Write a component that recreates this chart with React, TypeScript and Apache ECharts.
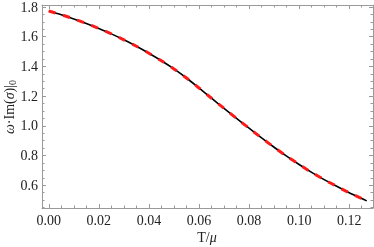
import React, { useEffect, useRef } from "react";
import * as echarts from "echarts";

const tValues = [0, 0.005, 0.01, 0.015, 0.02, 0.025, 0.03, 0.035, 0.04, 0.045, 0.05, 0.055, 0.06, 0.065, 0.07, 0.075, 0.08, 0.085, 0.09, 0.095, 0.1, 0.105, 0.11, 0.115, 0.12, 0.125, 0.127];
const numericValues = [1.773, 1.748, 1.72, 1.689, 1.655, 1.619, 1.579, 1.536, 1.489, 1.438, 1.383, 1.322, 1.255, 1.186, 1.118, 1.05, 0.984, 0.919, 0.856, 0.796, 0.74, 0.687, 0.638, 0.593, 0.55, 0.511, 0.495];
const fitValues = [1.773, 1.748, 1.72, 1.689, 1.655, 1.619, 1.579, 1.536, 1.489, 1.438, 1.383, 1.322, 1.255, 1.186, 1.118, 1.05, 0.984, 0.919, 0.856, 0.796, 0.74, 0.687, 0.638, 0.593, 0.55, 0.511, 0.495];

const xMajorTicks = [0, 0.02, 0.04, 0.06, 0.08, 0.1, 0.12];
const xMinorTicks = [0.005, 0.01, 0.015, 0.025, 0.03, 0.035, 0.045, 0.05, 0.055, 0.065, 0.07, 0.075, 0.085, 0.09, 0.095, 0.105, 0.11, 0.115, 0.125];
const yMajorTicks = [0.6, 0.8, 1.0, 1.2, 1.4, 1.6, 1.8];
const yMinorTicks = [0.45, 0.5, 0.55, 0.65, 0.7, 0.75, 0.85, 0.9, 0.95, 1.05, 1.1, 1.15, 1.25, 1.3, 1.35, 1.45, 1.5, 1.55, 1.65, 1.7, 1.75];

const X_MIN = -0.0027;
const X_MAX = 0.1295;
const Y_MIN = 0.447;
const Y_MAX = 1.813;

const FRAME = "#9a9a9a";
const SERIF = "'Liberation Serif', 'DejaVu Serif', serif";

export default function App() {
  const ref = useRef<HTMLDivElement>(null);
  useEffect(() => {
    if (!ref.current) return;
    const chart = echarts.init(ref.current, undefined, { renderer: "svg" });

    const mkX = (pos: "bottom" | "top", vals: number[], len: number, labels: boolean, line: boolean) => ({
      type: "value",
      position: pos,
      min: X_MIN,
      max: X_MAX,
      axisLine: { show: line, onZero: false, lineStyle: { color: FRAME, width: 1 } },
      axisTick: { show: true, inside: true, length: len, customValues: vals, lineStyle: { color: FRAME, width: 1 } },
      axisLabel: labels
        ? { show: true, customValues: vals, formatter: (v: number) => v.toFixed(2), color: "#222", fontFamily: SERIF, fontSize: 14, margin: 5 }
        : { show: false },
      splitLine: { show: false },
    });
    const mkY = (pos: "left" | "right", vals: number[], len: number, labels: boolean, line: boolean) => ({
      type: "value",
      position: pos,
      min: Y_MIN,
      max: Y_MAX,
      axisLine: { show: line, onZero: false, lineStyle: { color: FRAME, width: 1 } },
      axisTick: { show: true, inside: true, length: len, customValues: vals, lineStyle: { color: FRAME, width: 1 } },
      axisLabel: labels
        ? { show: true, customValues: vals, formatter: (v: number) => v.toFixed(1), color: "#222", fontFamily: SERIF, fontSize: 14, margin: 4 }
        : { show: false },
      splitLine: { show: false },
    });

    chart.setOption({
      animation: false,
      grid: { left: 42, right: 1, top: 4, bottom: 39, containLabel: false },
      xAxis: [
        mkX("bottom", xMajorTicks, 4, true, true),
        mkX("bottom", xMinorTicks, 2.5, false, false),
        mkX("top", xMajorTicks, 4, false, true),
        mkX("top", xMinorTicks, 2.5, false, false),
      ],
      yAxis: [
        mkY("left", yMajorTicks, 4, true, true),
        mkY("left", yMinorTicks, 2.5, false, false),
        mkY("right", yMajorTicks, 4, false, true),
        mkY("right", yMinorTicks, 2.5, false, false),
      ],
      series: [
        {
          type: "line",
          name: "numeric",
          data: tValues.map((t, i) => [t, numericValues[i]]),
          smooth: 0.3,
          showSymbol: false,
          lineStyle: { color: "#000", width: 1.6 },
          z: 2,
        },
        {
          type: "line",
          name: "fit",
          data: tValues.map((t, i) => [t, fitValues[i]]),
          smooth: 0.3,
          showSymbol: false,
          lineStyle: { color: "#ff1a1a", width: 3, type: [7, 8], cap: "butt" },
          z: 3,
        },
      ],
      graphic: [
        {
          type: "text",
          x: 207,
          y: 237,
          style: {
            text: "T/{i|μ}",
            rich: { i: { fontStyle: "italic", fontFamily: SERIF, fontSize: 14, fill: "#222" } },
            font: `14px ${SERIF}`,
            fill: "#222",
            align: "center",
            verticalAlign: "middle",
          },
        },
        {
          type: "text",
          x: 9,
          y: 107,
          rotation: Math.PI / 2,
          style: {
            text: "{i|ω}·Im({i|σ})|{s|0}",
            rich: {
              i: { fontStyle: "italic", fontFamily: SERIF, fontSize: 14, fill: "#222" },
              s: { fontFamily: SERIF, fontSize: 10, fill: "#222", padding: [6, 0, 0, 0] },
            },
            font: `14px ${SERIF}`,
            fill: "#222",
            align: "center",
            verticalAlign: "middle",
          },
        },
      ],
    });
    return () => chart.dispose();
  }, []);
  return <div ref={ref} style={{ position: "fixed", left: 0, top: 0, width: 374, height: 247 }} />;
}
